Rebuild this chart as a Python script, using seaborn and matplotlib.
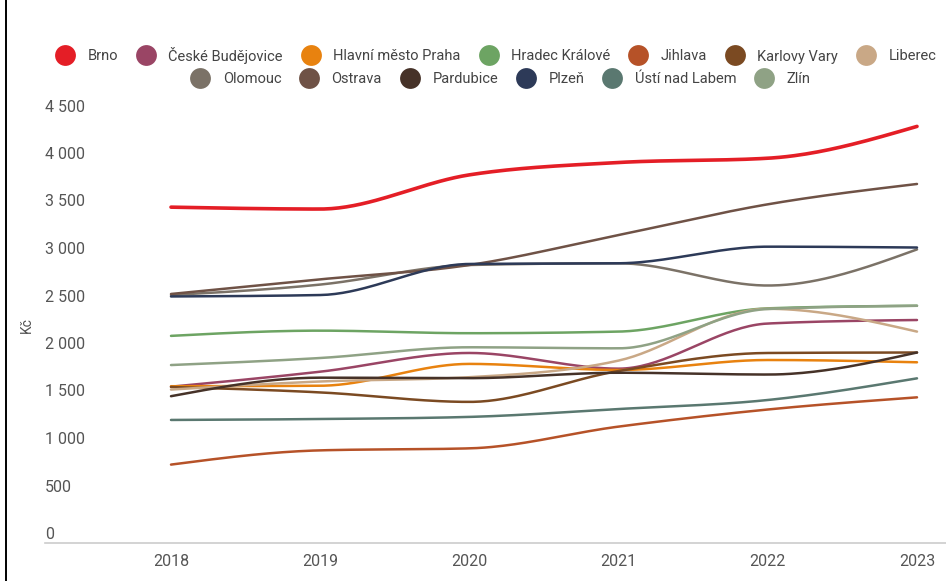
import numpy as np
import pandas as pd
import matplotlib
matplotlib.use("Agg")
import matplotlib.pyplot as plt
from matplotlib.lines import Line2D
import seaborn as sns

# ---------------- data ----------------
years = [2018, 2019, 2020, 2021, 2022, 2023]
cities = ["Brno", "České Budějovice", "Hlavní město Praha", "Hradec Králové",
          "Jihlava", "Karlovy Vary", "Liberec", "Olomouc", "Ostrava",
          "Pardubice", "Plzeň", "Ústí nad Labem", "Zlín"]
brno = [3430, 3410, 3770, 3900, 3945, 4280]
ceske_budejovice = [1540, 1698, 1895, 1730, 2205, 2242]
praha = [1545, 1550, 1780, 1716, 1821, 1797]
hradec_kralove = [2075, 2130, 2103, 2120, 2365, 2392]
jihlava = [720, 870, 891, 1120, 1300, 1428]
karlovy_vary = [1537, 1480, 1380, 1705, 1895, 1900]
liberec = [1510, 1595, 1640, 1815, 2360, 2120]
olomouc = [2505, 2615, 2821, 2839, 2605, 2985]
ostrava = [2516, 2670, 2821, 3137, 3460, 3674]
pardubice = [1440, 1635, 1630, 1687, 1668, 1900]
plzen = [2490, 2505, 2832, 2839, 3014, 3005]
usti = [1190, 1200, 1222, 1305, 1400, 1628]
zlin = [1768, 1842, 1955, 1944, 2358, 2392]
series = [brno, ceske_budejovice, praha, hradec_kralove, jihlava, karlovy_vary,
          liberec, olomouc, ostrava, pardubice, plzen, usti, zlin]
colors = ["#e41e26", "#9a4565", "#e8820f", "#6da463", "#b65228", "#7b4a22",
          "#c9a886", "#7b7267", "#6f5246", "#463228", "#2d3a58", "#5a7870",
          "#8fa285"]
ytick_vals = [0, 500, 1000, 1500, 2000, 2500, 3000, 3500, 4000, 4500]
ytick_labels = ["0", "500", "1 000", "1 500", "2 000", "2 500", "3 000",
                "3 500", "4 000", "4 500"]


# monotone-x curve (as in d3.curveMonotoneX) for rendering the lines smoothly
def monotone_curve(x, y, n=40):
    x = np.asarray(x, float); y = np.asarray(y, float)
    h = np.diff(x); s = np.diff(y) / h
    t = np.zeros_like(y)
    for i in range(1, len(x) - 1):
        p = (s[i - 1] * h[i] + s[i] * h[i - 1]) / (h[i - 1] + h[i])
        t[i] = (np.sign(s[i - 1]) + np.sign(s[i])) * min(abs(s[i - 1]), abs(s[i]), 0.5 * abs(p))
    t[0] = (3 * s[0] - t[1]) / 2
    t[-1] = (3 * s[-1] - t[-2]) / 2
    xs, ys = [], []
    for i in range(len(x) - 1):
        u = np.linspace(0, 1, n, endpoint=(i == len(x) - 2))
        h00 = 2 * u**3 - 3 * u**2 + 1
        h10 = u**3 - 2 * u**2 + u
        h01 = -2 * u**3 + 3 * u**2
        h11 = u**3 - u**2
        xs.append(x[i] + u * h[i])
        ys.append(h00 * y[i] + h10 * h[i] * t[i] + h01 * y[i + 1] + h11 * h[i] * t[i + 1])
    return np.concatenate(xs), np.concatenate(ys)


rows = []
for c, vals in zip(cities, series):
    xs, ys = monotone_curve(years, vals)
    rows.append(pd.DataFrame({"city": c, "year": xs, "value": ys}))
df = pd.concat(rows, ignore_index=True)

sns.set_theme(style="white")
plt.rcParams["font.family"] = ["Roboto", "DejaVu Sans"]

W, H = 946, 581
fig = plt.figure(figsize=(W / 100, H / 100), dpi=100)
ax = fig.add_axes([45 / W, 38 / H, 1 - 45 / W, (543 - 100) / H])

for c, col in zip(cities, colors):
    sub = df[df["city"] == c]
    sns.lineplot(data=sub, x="year", y="value", color=col, ax=ax,
                 linewidth=2.6 if c == "Brno" else 1.8,
                 estimator=None, sort=False, legend=False, zorder=5 if c == "Brno" else 3)

px_per = 149.2
ax.set_xlim(2018 - (171 - 45) / px_per, 2018 + (W - 171) / px_per)
scale = 0.095
ax.set_ylim((533 - 543) / scale, (533 - 100) / scale)

ax.set_xticks(years)
ax.set_xticklabels([str(y) for y in years])
ax.set_yticks(ytick_vals)
ax.set_yticklabels(ytick_labels)
ax.tick_params(axis="x", length=0, pad=8, labelsize=11.5, labelcolor="#555555")
ax.tick_params(axis="y", length=0, pad=0, labelsize=11.5, labelcolor="#555555")
for lab in ax.get_yticklabels():
    lab.set_horizontalalignment("left")
ax.set_xlabel("")
ax.set_ylabel("")
for side in ["top", "right", "left"]:
    ax.spines[side].set_visible(False)
ax.spines["bottom"].set_color("#cccccc")
ax.spines["bottom"].set_linewidth(1.2)
ax.grid(False)
ax.set_facecolor("white")

fig.text(27 / W, 1 - 325 / H, "Kč", rotation=90, ha="center", va="center",
         fontsize=10, color="#555555")

# legend in two rows
handles = [Line2D([], [], marker="o", linestyle="", markersize=15,
                  markerfacecolor=col, markeredgewidth=0) for col in colors]
leg_kw = dict(frameon=False, fontsize=10.5, handlelength=1.15, handletextpad=0.95,
              columnspacing=1.35, borderpad=0, borderaxespad=0,
              labelcolor="#444444")
leg1 = fig.legend(handles[:7], cities[:7], loc="center left",
                  bbox_to_anchor=(57 / W, 1 - 55 / H), ncol=7, **leg_kw)
leg2 = fig.legend(handles[7:], cities[7:], loc="center left",
                  bbox_to_anchor=(192 / W, 1 - 79 / H), ncol=6, **leg_kw)

# frame line at the left edge of the screenshot
fig.add_artist(Line2D([6 / W, 6 / W], [0, 1], color="black", linewidth=1.4))

fig.savefig("out.png", dpi=100, facecolor="white")
